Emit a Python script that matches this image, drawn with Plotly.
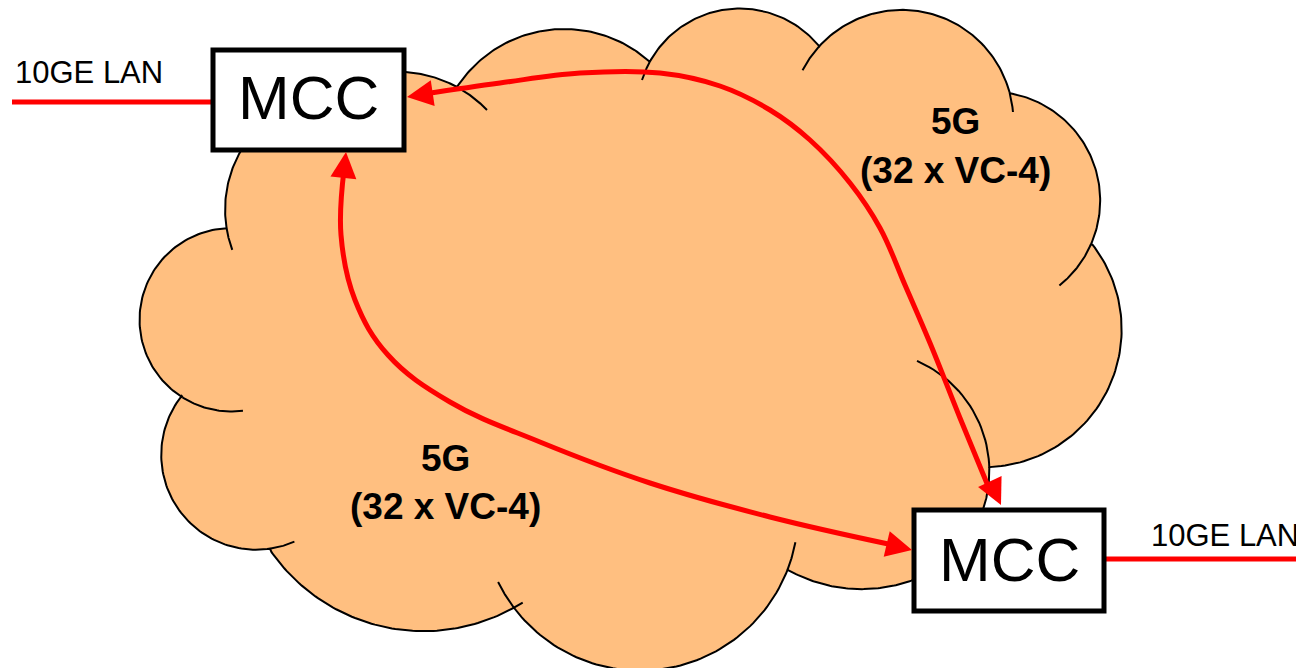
import numpy as np
import plotly.graph_objects as go

W, H = 1296, 668
cloud_fill = '#FFBF80'
red = '#FF0000'

# cloud bumps, traced clockwise (pixel coords, y down); some points sit behind the boxes
lobe_pts = [
    [(227, 228), (225, 208), (240, 152), (300, 100)],
    [(340, 86), (405, 72), (457, 87)],
    [(457, 87), (563, 29), (650, 62)],
    [(650, 62), (680, 27), (737, 9), (820, 47)],
    [(820, 47), (900, 9), (980, 43), (1010, 93)],
    [(1010, 93), (1047, 107), (1087, 150), (1100, 200), (1092, 245)],
    [(1092, 245), (1123, 330), (1100, 403), (1053, 447), (990, 468)],
    [(990, 468), (983, 507), (935, 572)],
    [(925, 576), (910, 580), (850, 589), (788, 570)],
    [(788, 570), (740, 638), (620, 667), (513, 608)],
    [(513, 608), (417, 630), (323, 603), (270, 549)],
    [(270, 549), (250, 548), (190, 520), (158, 457), (183, 397)],
    [(183, 397), (140, 333), (140, 310), (187, 240), (227, 228)],
]
# inner arc ends that run on past a bump's start / end
tail_in = [(232, 250), None, None, (642, 80), (802, 70), None, None,
           (917, 361), None, (794, 542), (523, 603), (295, 543), (243, 411)]
tail_out = [None, (487, 110), None, None, (1013, 112), (1059, 285), None,
            None, None, (498, 582), None, None, None]

# boxes (centre line of the border)
box_x0 = [213, 914]
box_y0 = [50, 510]
box_x1 = [404, 1104]
box_y1 = [150, 611]
box_label = ['MCC', 'MCC']
box_label_x = [308, 1009]
box_label_y = [97, 559]

# LAN feeds
lan_x = [[12, 212], [1106, 1296]]
lan_y = [[102, 102], [559, 559]]
lan_text = ['10GE LAN', '10GE LAN']
lan_text_x = [13, 1149]
lan_text_y = [72, 535]

# capacity labels
cap_line1 = ['5G', '5G']
cap_line2 = ['(32 x VC-4)', '(32 x VC-4)']
cap_x = [955, 445]
cap_y1 = [121, 458]
cap_y2 = [170, 506]

# red paths between the two MCCs (ends at the arrowhead bases)
path_top_x = [424, 500, 580, 660, 720, 770, 810, 850, 880, 905, 930, 960, 988]
path_top_y = [94, 83, 73, 73, 86, 110, 140, 183, 228, 285, 343, 418, 486]
path_low_x = [344, 341, 355, 388, 450, 540, 650, 770, 893]
path_low_y = [170, 235, 300, 355, 402, 442, 483, 517, 545]
# arrowheads: tip and a point back along the path
head_x = [407, 1001, 346, 912]
head_y = [97, 505, 152, 550]
head_ax = [427, 991, 344, 891]
head_ay = [94, 484, 172, 545]


def fit_circle(pts):
    p = np.array(pts, float)
    A = np.c_[p[:, 0], p[:, 1], np.ones(len(p))]
    b = -(p[:, 0] ** 2 + p[:, 1] ** 2)
    D, E, F = np.linalg.lstsq(A, b, rcond=None)[0]
    cx, cy = -D / 2, -E / 2
    return cx, cy, np.sqrt(cx ** 2 + cy ** 2 - F)


def ang(c, p):
    return np.arctan2(p[1] - c[1], p[0] - c[0])


def arc(cx, cy, r, t0, t1, n=80):
    t = np.linspace(t0, t1, n)
    return list(cx + r * np.cos(t)), list(cy + r * np.sin(t))


ox, oy = [], []
tx, ty = [], []
for pts, ti, to in zip(lobe_pts, tail_in, tail_out):
    fit = list(pts) + [q for q in (ti, to) if q is not None]
    cx, cy, r = fit_circle(fit)
    c = (cx, cy)
    ts = ang(c, pts[0])
    te = ts + (ang(c, pts[-1]) - ts) % (2 * np.pi)
    xs, ys = arc(cx, cy, r, ts, te)
    ox += xs
    oy += ys
    if ti is not None:
        tt = ts - (ts - ang(c, ti)) % (2 * np.pi)
        xs, ys = arc(cx, cy, r, tt, ts, 30)
        tx += xs + [None]
        ty += ys + [None]
    if to is not None:
        tt = te + (ang(c, to) - te) % (2 * np.pi)
        xs, ys = arc(cx, cy, r, te, tt, 30)
        tx += xs + [None]
        ty += ys + [None]

fig = go.Figure()
fig.add_trace(go.Scatter(x=ox + ox[:1], y=oy + oy[:1], mode='lines', fill='toself',
                         fillcolor=cloud_fill, line=dict(color='black', width=2),
                         hoverinfo='skip'))
fig.add_trace(go.Scatter(x=tx, y=ty, mode='lines', line=dict(color='black', width=2),
                         hoverinfo='skip'))

for px_, py_ in [(path_top_x, path_top_y), (path_low_x, path_low_y)]:
    fig.add_trace(go.Scatter(x=px_, y=py_, mode='lines', hoverinfo='skip',
                             line=dict(color=red, width=5, shape='spline', smoothing=1.1)))

for lx, ly in zip(lan_x, lan_y):
    fig.add_trace(go.Scatter(x=lx, y=ly, mode='lines', hoverinfo='skip',
                             line=dict(color=red, width=5)))

for i in range(len(box_x0)):
    fig.add_shape(type='rect', x0=box_x0[i], y0=box_y0[i], x1=box_x1[i], y1=box_y1[i],
                  line=dict(color='black', width=5), fillcolor='white', layer='above')
    fig.add_annotation(x=box_label_x[i], y=box_label_y[i], text=box_label[i], showarrow=False,
                       font=dict(family='Liberation Sans, Arial', size=62, color='black'))

for i in range(len(lan_text)):
    fig.add_annotation(x=lan_text_x[i], y=lan_text_y[i], text=lan_text[i], showarrow=False,
                       xanchor='left', font=dict(family='Liberation Sans, Arial', size=31,
                                                 color='black'))

for i in range(len(cap_x)):
    fig.add_annotation(x=cap_x[i], y=cap_y1[i], text='<b>%s</b>' % cap_line1[i], showarrow=False,
                       font=dict(family='Liberation Sans, Arial', size=37, color='black'))
    fig.add_annotation(x=cap_x[i], y=cap_y2[i], text='<b>%s</b>' % cap_line2[i], showarrow=False,
                       font=dict(family='Liberation Sans, Arial', size=37, color='black'))

for i in range(len(head_x)):
    fig.add_annotation(x=head_x[i], y=head_y[i], ax=head_ax[i], ay=head_ay[i],
                       axref='x', ayref='y', text='', showarrow=True,
                       arrowhead=2, arrowsize=1.3, arrowwidth=4, arrowcolor=red)

fig.update_xaxes(range=[0, W], visible=False, fixedrange=True)
fig.update_yaxes(range=[H, 0], visible=False, fixedrange=True)
fig.update_layout(width=W, height=H, margin=dict(l=0, r=0, t=0, b=0),
                  plot_bgcolor='white', paper_bgcolor='white', showlegend=False)
fig.write_html("out.html", config={'displayModeBar': False},
               post_script="document.body.style.margin='0';")
